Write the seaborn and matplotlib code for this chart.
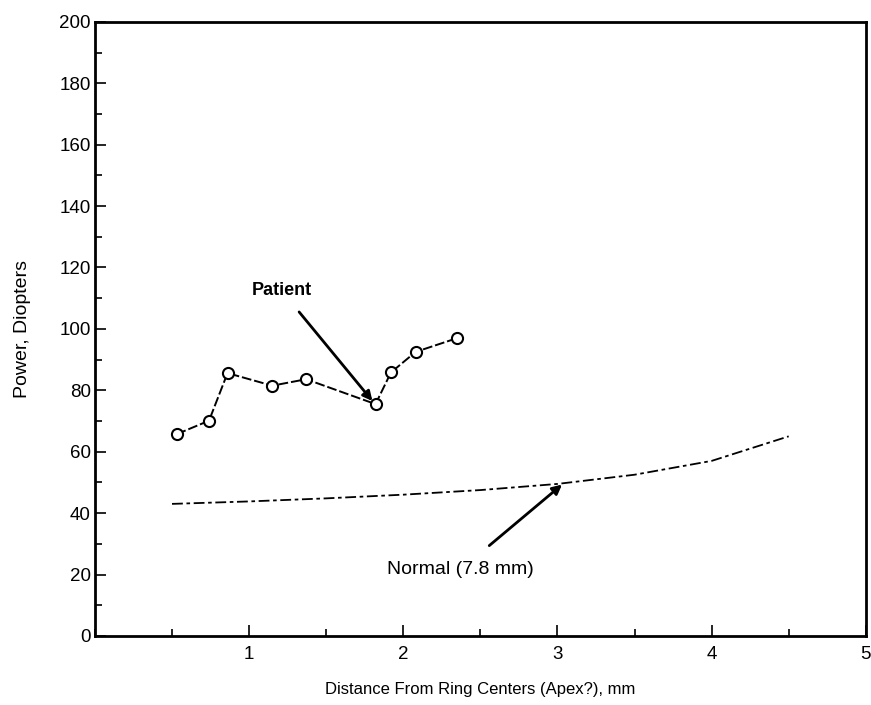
import matplotlib
matplotlib.use("Agg")
import matplotlib.pyplot as plt
import seaborn as sns
import pandas as pd
from matplotlib.ticker import MultipleLocator, FixedLocator

# patient readings
patient_x = [0.53, 0.74, 0.86, 1.15, 1.37, 1.82, 1.92, 2.08, 2.35]
patient_y = [65.7, 70.1, 85.6, 81.5, 83.6, 75.5, 85.8, 92.5, 97.0]

# normal eye curve (7.8 mm)
normal_x = [0.5, 1.0, 1.5, 2.0, 2.5, 3.0, 3.5, 4.0, 4.5]
normal_y = [43.0, 43.8, 44.8, 46.0, 47.5, 49.5, 52.5, 57.0, 65.0]

x_ticks = [1, 2, 3, 4, 5]
y_ticks = [0, 20, 40, 60, 80, 100, 120, 140, 160, 180, 200]

patient = pd.DataFrame({"x": patient_x, "y": patient_y})
normal = pd.DataFrame({"x": normal_x, "y": normal_y})

sns.set_style("ticks")
plt.rcParams["font.family"] = ["Liberation Sans", "DejaVu Sans"]
plt.rcParams["text.color"] = "black"
plt.rcParams["axes.labelcolor"] = "black"

fig = plt.figure(figsize=(8.71, 7.05), dpi=100)
ax = fig.add_axes([0.109, 0.098, 0.885, 0.871])

sns.lineplot(data=normal, x="x", y="y", ax=ax, color="black", lw=1.3,
             linestyle=(0, (6, 2, 2, 2)), sort=False)
sns.lineplot(data=patient, x="x", y="y", ax=ax, color="black", lw=1.4,
             linestyle=(0, (5, 1.5)), sort=False, marker="o", markersize=8,
             markerfacecolor="white", markeredgecolor="black", markeredgewidth=1.5)

ax.annotate("Patient", xy=(1.8, 76.5), xytext=(1.21, 112.5),
            ha="center", va="center", fontsize=13, fontweight="bold",
            arrowprops=dict(arrowstyle="-|>", color="black", lw=2,
                            mutation_scale=14, shrinkA=9, shrinkB=0))
ax.annotate("Normal (7.8 mm)", xy=(3.03, 49.3), xytext=(2.37, 21.5),
            ha="center", va="center", fontsize=14,
            arrowprops=dict(arrowstyle="-|>", color="black", lw=2,
                            mutation_scale=14, shrinkA=14, shrinkB=0))

ax.set_xlim(0, 5)
ax.set_ylim(0, 200)
ax.xaxis.set_major_locator(FixedLocator(x_ticks))
ax.xaxis.set_minor_locator(MultipleLocator(0.5))
ax.set_yticks(y_ticks)
ax.yaxis.set_minor_locator(MultipleLocator(10))
ax.tick_params(which="both", direction="in", colors="black", labelsize=13.5,
               width=1.2, top=False, right=False)
ax.tick_params(which="major", length=8)
ax.tick_params(axis="y", which="major", pad=3)
ax.tick_params(axis="x", which="major", pad=7)
ax.tick_params(which="minor", length=5)

for s in ax.spines.values():
    s.set_linewidth(2)
    s.set_color("black")

ax.set_xlabel("Distance From Ring Centers (Apex?), mm", fontsize=12, labelpad=14)
ax.set_ylabel("Power, Diopters", fontsize=14, labelpad=20)

fig.savefig("out.png", dpi=100, facecolor="white")
